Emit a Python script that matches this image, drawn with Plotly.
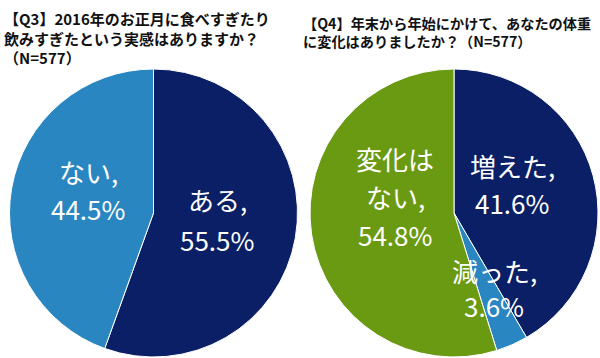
import plotly.graph_objects as go

W, H = 600, 358

# Q3 data
q3_labels = ["ある", "ない"]
q3_values = [55.5, 44.5]
q3_colors = ["#0b1f66", "#2a86c0"]

# Q4 data
q4_labels = ["増えた", "減った", "変化は<br>ない"]
q4_values = [41.6, 3.6, 54.8]
q4_colors = ["#0b1f66", "#2a86c0", "#6a9a12"]

q3_title = "【Q3】2016年のお正月に食べすぎたり<br>飲みすぎたという実感はありますか？<br>（N=577）"
q4_title = "【Q4】年末から年始にかけて、あなたの体重<br>に変化はありましたか？（N=577）"

FONT = "Noto Sans CJK JP"

def dom(cx, cy, r):
    return dict(x=[(cx - r) / W, (cx + r) / W], y=[(H - cy - r) / H, (H - cy + r) / H])

fig = go.Figure()
fig.add_trace(go.Pie(
    labels=q3_labels, values=q3_values, sort=False, direction="clockwise", rotation=0,
    marker=dict(colors=q3_colors, line=dict(color="white", width=1)),
    textinfo="none", hoverinfo="label+value", domain=dom(153.5, 213, 144), showlegend=False,
))
fig.add_trace(go.Pie(
    labels=q4_labels, values=q4_values, sort=False, direction="clockwise", rotation=0,
    marker=dict(colors=q4_colors, line=dict(color="white", width=1)),
    textinfo="none", hoverinfo="label+value", domain=dom(454, 213, 144), showlegend=False,
))

# label placement: (x centre, y centre of first line, line spacing) in pixels
q3_pos = [(217, 199, 41), (88, 171, 37)]
q4_pos = [(512, 165, 37), (494, 270, 35), (395, 159, 37.5)]

annotations = []
def add_label(label, value, pos):
    lines = label.split("<br>")
    lines[-1] = lines[-1] + ","
    lines.append(f"{value}%")
    x, y0, dy = pos
    for i, t in enumerate(lines):
        annotations.append(dict(
            x=x / W, y=1 - (y0 + i * dy) / H, xref="paper", yref="paper",
            text=t, showarrow=False, align="center",
            font=dict(family=FONT, size=26, color="white"),
            xanchor="center", yanchor="middle",
        ))

for l, v, p in zip(q3_labels, q3_values, q3_pos):
    add_label(l, v, p)
for l, v, p in zip(q4_labels, q4_values, q4_pos):
    add_label(l, v, p)

annotations.append(dict(x=2 / W, y=1 - 6 / H, xref="paper", yref="paper", text=q3_title,
                        showarrow=False, align="left", xanchor="left", yanchor="top",
                        font=dict(family=FONT, size=15, color="#111111", weight="bold")))
annotations.append(dict(x=301 / W, y=1 - 11 / H, xref="paper", yref="paper", text=q4_title,
                        showarrow=False, align="left", xanchor="left", yanchor="top",
                        font=dict(family=FONT, size=14.2, color="#111111", weight="bold")))

fig.update_layout(
    width=W, height=H, margin=dict(l=0, r=0, t=0, b=0),
    paper_bgcolor="white", plot_bgcolor="white",
    annotations=annotations,
)
fig.write_html("out.html", config={"displayModeBar": False},
               post_script="document.body.style.margin='0';document.body.style.overflow='hidden';")
